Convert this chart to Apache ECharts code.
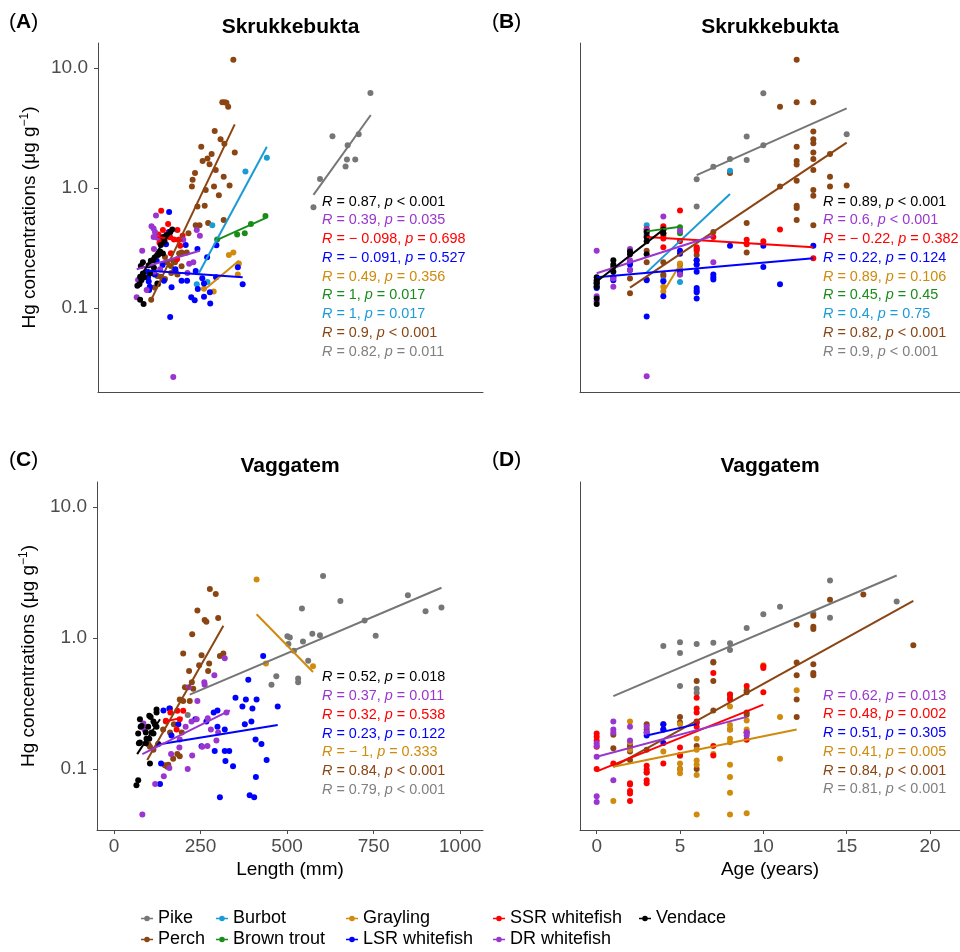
<!DOCTYPE html>
<html><head><meta charset="utf-8">
<script src="https://cdn.jsdelivr.net/npm/echarts@6/dist/echarts.min.js"></script>
<style>html,body{margin:0;padding:0;background:#fff}#c{width:960px;height:952px}</style>
</head><body><div id="c"></div>
<script>
// ---------------- DATA ----------------
const species = ['Pike','Perch','Burbot','Brown trout','Grayling','LSR whitefish','SSR whitefish','DR whitefish','Vendace'];
const panelTitles = ['Skrukkebukta','Skrukkebukta','Vaggatem','Vaggatem'];
const panelTags = ['A','B','C','D'];
const lengthTicks = [0,250,500,750,1000];
const ageTicks = [0,5,10,15,20];
const hgTicks = [0.1,1,10];

// Panel A: Skrukkebukta, length (mm) vs Hg
const aPike = [[575,0.69],[594,1.19],[630,2.70],[668,1.51],[672,1.73],[674,2.27],[696,1.73],[706,2.80],[740,6.2]];
const aPerch = [[343,11.7],[311,5.18],[318,5.18],[323,5.13],[328,4.76],[289,2.99],[306,2.55],[317,2.34],[347,1.98],[250,2.21],[280,1.92],[268,1.76],[254,1.68],[274,1.58],[292,1.41],[232,1.33],[225,1.17],[223,1.03],[263,0.96],[287,1.03],[301,0.87],[315,1.24],[332,1.05],[239,0.70],[260,0.71],[315,0.54],[270,0.51],[234,0.49],[245,0.49],[213,0.42],[193,0.29],[186,0.285],[208,0.29],[169,0.247],[145,0.266],[151,0.24],[162,0.224],[174,0.24],[193,0.223],[171,0.203],[163,0.196],[176,0.2],[181,0.19],[123,0.185],[133,0.182],[145,0.174],[125,0.158],[115,0.148],[105,0.117]];
const aBurbot = [[378,1.37],[440,1.79],[282,0.49],[268,0.165],[237,0.158]];
const aTrout = [[296,0.373],[354,0.41],[376,0.42],[394,0.50],[436,0.585]];
const aGrayling = [[330,0.277],[343,0.29],[359,0.235],[356,0.19],[286,0.137],[258,0.145]];
const aLSR = [[157,0.63],[156,0.43],[205,0.335],[239,0.31],[294,0.333],[267,0.265],[234,0.203],[253,0.177],[240,0.144],[258,0.16],[275,0.135],[221,0.123],[231,0.116],[258,0.124],[276,0.109],[193,0.169],[209,0.169],[164,0.149],[142,0.169],[138,0.228],[121,0.247],[160,0.084],[94,0.2],[96,0.18],[98,0.166],[101,0.15],[99,0.141],[356,0.218],[370,0.158],[148,0.34],[293,0.18],[175,0.21],[115,0.19]];
const aSSR = [[134,0.647],[154,0.5],[181,0.447],[139,0.447],[126,0.41],[131,0.373],[144,0.37],[160,0.388],[171,0.373],[186,0.37],[189,0.33],[162,0.286],[180,0.255],[129,0.35],[157,0.42],[184,0.37],[196,0.4]];
const aDR = [[119,0.59],[106,0.48],[112,0.46],[116,0.43],[112,0.39],[123,0.385],[79,0.3],[113,0.31],[198,0.37],[246,0.4],[237,0.447],[215,0.234],[227,0.24],[210,0.196],[131,0.21],[113,0.2],[67,0.171],[75,0.168],[63,0.123],[92,0.141],[169,0.0266]];
const aVendace = [[160,0.427],[166,0.45],[149,0.406],[140,0.39],[143,0.357],[133,0.335],[131,0.295],[139,0.285],[125,0.277],[115,0.264],[110,0.25],[104,0.247],[81,0.24],[75,0.224],[98,0.227],[113,0.216],[102,0.194],[81,0.194],[73,0.182],[85,0.18],[77,0.171],[71,0.158],[65,0.153],[123,0.16],[73,0.117],[83,0.108]];
const aPikeFit = [[575,0.875],[741,4.06]];
const aPerchFit = [[105,0.117],[347,3.39]];
const aBurbotFit = [[243,0.195],[440,2.21]];
const aTroutFit = [[296,0.37],[436,0.56]];
const aGraylingFit = [[258,0.141],[359,0.248]];
const aLSRFit = [[90,0.205],[370,0.18]];
const aSSRFit = [[123,0.39],[196,0.365]];
const aDRFit = [[63,0.21],[246,0.30]];
const aVendaceFit = [[68,0.175],[166,0.45]];
const aStatR = ['0.82','0.9','1','1','0.49','\u2212 0.091','\u2212 0.098','0.39','0.87'];
const aStatP = ['= 0.011','< 0.001','= 0.017','= 0.017','= 0.356','= 0.527','= 0.698','= 0.035','< 0.001'];

// Panel B: Skrukkebukta, age (years) vs Hg
const bPike = [[6,1.18],[6,0.70],[7,1.5],[8,1.74],[9,2.68],[9,1.71],[10,6.16],[10,2.27],[15,2.8]];
const bPerch = [[12,11.7],[11,4.76],[12,5.17],[13,5.17],[13,2.95],[13,2.55],[13,2.36],[13,1.98],[13,1.74],[13,1.41],[12,2.21],[12,1.68],[12,1.57],[12,1.15],[12,0.71],[12,0.68],[12,0.54],[11,1.03],[14,1.92],[14,1.24],[14,1.03],[15,1.05],[13,0.96],[13,0.86],[13,0.49],[8,1.33],[9,0.51],[9,0.29],[7,0.43],[6,0.277],[6,0.25],[6,0.23],[5,0.23],[5,0.21],[4,0.24],[4,0.19],[4,0.185],[3,0.24],[3,0.173],[2,0.176],[2,0.133],[5,0.19],[3,0.3]];
const bBurbot = [[3,0.49],[4,0.17],[5,0.165],[8,1.39]];
const bTrout = [[3,0.435],[4,0.45],[5,0.47],[5,0.42]];
const bGrayling = [[4,0.15],[4,0.137],[5,0.235],[5,0.21]];
const bLSR = [[0,0.15],[0,0.147],[0,0.16],[1,0.18],[1,0.17],[2,0.207],[2,0.24],[2,0.23],[3,0.17],[3,0.085],[4,0.167],[4,0.125],[5,0.3],[5,0.283],[5,0.2],[6,0.31],[6,0.25],[6,0.23],[6,0.2],[6,0.147],[6,0.14],[6,0.135],[6,0.12],[7,0.19],[7,0.18],[7,0.173],[8,0.33],[10,0.33],[10,0.22],[11,0.158],[13,0.33]];
const bSSR = [[5,0.65],[4,0.48],[4,0.46],[4,0.42],[4,0.4],[4,0.38],[3,0.39],[4,0.32],[5,0.36],[6,0.32],[6,0.3],[7,0.39],[9,0.37],[9,0.34],[10,0.36],[11,0.45],[13,0.26],[3,0.455]];
const bDR = [[0,0.3],[0,0.125],[0,0.114],[1,0.176],[2,0.31],[2,0.25],[2,0.207],[3,0.45],[3,0.41],[4,0.58],[5,0.44],[5,0.19],[7,0.24],[3,0.027],[1,0.15]];
const bVendace = [[0,0.18],[0,0.165],[0,0.16],[0,0.17],[0,0.15],[0,0.12],[0,0.108],[1,0.25],[1,0.23],[1,0.22],[1,0.2],[2,0.295],[2,0.28],[3,0.43],[3,0.39],[3,0.36],[3,0.28],[4,0.45],[4,0.42]];
const bPikeFit = [[6,1.28],[15,4.6]];
const bPerchFit = [[2,0.148],[15,2.39]];
const bBurbotFit = [[3,0.198],[8,0.89]];
const bTroutFit = [[3,0.435],[5,0.476]];
const bGraylingFit = [[4,0.135],[5,0.23]];
const bLSRFit = [[0,0.18],[13,0.26]];
const bSSRFit = [[3,0.39],[13,0.32]];
const bDRFit = [[0,0.195],[7,0.4]];
const bVendaceFit = [[0,0.166],[4,0.45]];
const bStatR = ['0.9','0.82','0.4','0.45','0.89','0.22','\u2212 0.22','0.6','0.89'];
const bStatP = ['< 0.001','< 0.001','= 0.75','= 0.45','= 0.106','= 0.124','= 0.382','< 0.001','< 0.001'];

// Panel C: Vaggatem, length (mm) vs Hg
const cPike = [[213,0.258],[455,0.44],[469,0.51],[501,1.03],[508,1.01],[504,0.9],[520,0.8],[532,0.49],[532,0.46],[546,0.94],[543,1.68],[561,0.67],[573,1.08],[595,1.05],[604,2.97],[654,1.92],[724,1.36],[756,1.04],[849,2.12],[900,1.6],[946,1.71]];
const cPerch = [[277,2.37],[294,2.17],[241,1.62],[262,1.37],[267,1.33],[301,1.42],[226,1.07],[200,0.76],[253,0.74],[246,0.62],[275,0.64],[306,0.73],[316,0.76],[217,0.56],[272,0.56],[205,0.42],[229,0.41],[225,0.46],[190,0.34],[200,0.33],[219,0.33],[162,0.29],[150,0.23],[173,0.22],[142,0.2],[162,0.19],[196,0.19],[183,0.13],[147,0.107],[157,0.108],[171,0.12],[190,0.125],[104,0.148],[100,0.154],[114,0.14],[154,0.104]];
const cGrayling = [[412,2.8],[439,0.64],[575,0.61]];
const cLSR = [[431,0.73],[388,0.48],[412,0.34],[381,0.34],[351,0.35],[371,0.3],[400,0.29],[378,0.22],[397,0.23],[299,0.28],[288,0.27],[320,0.2],[299,0.21],[267,0.23],[253,0.149],[291,0.137],[320,0.137],[333,0.137],[322,0.115],[344,0.105],[409,0.168],[426,0.155],[441,0.117],[410,0.087],[392,0.063],[405,0.061],[306,0.061],[473,0.30],[166,0.18],[136,0.11],[133,0.077],[160,0.29],[143,0.28],[186,0.22],[235,0.24]];
const cSSR = [[150,0.234],[183,0.278],[200,0.278],[181,0.2],[163,0.27],[190,0.24]];
const cDR = [[320,0.7],[216,0.42],[290,0.52],[261,0.46],[241,0.33],[271,0.244],[325,0.27],[239,0.24],[224,0.23],[207,0.21],[190,0.168],[255,0.148],[270,0.15],[296,0.165],[189,0.146],[226,0.127],[165,0.13],[160,0.102],[144,0.088],[119,0.077],[213,0.1],[85,0.223],[82,0.045],[301,0.19],[262,0.44],[280,0.2],[88,0.2]];
const cVendace = [[75,0.24],[77,0.21],[102,0.255],[123,0.27],[118,0.22],[109,0.19],[102,0.17],[92,0.157],[72,0.157],[104,0.11],[70,0.082],[65,0.075],[128,0.155],[123,0.285],[106,0.25],[114,0.23],[123,0.21],[80,0.213],[99,0.21],[92,0.19],[114,0.187],[70,0.187],[94,0.17],[75,0.159]];
const cPikeFit = [[219,0.37],[946,2.42]];
const cPerchFit = [[96,0.117],[316,1.24]];
const cGraylingFit = [[412,1.52],[575,0.55]];
const cLSRFit = [[123,0.153],[473,0.217]];
const cSSRFit = [[145,0.23],[198,0.246]];
const cDRFit = [[82,0.13],[335,0.28]];
const cVendaceFit = [[67,0.13],[133,0.24]];
const cStatR = ['0.79','0.84',null,null,'\u2212 1','0.23','0.32','0.37','0.52'];
const cStatP = ['< 0.001','< 0.001',null,null,'= 0.333','= 0.122','= 0.538','= 0.011','= 0.018'];

// Panel D: Vaggatem, age (years) vs Hg
const dPike = [[4,0.87],[5,0.93],[5,0.77],[5,0.43],[6,0.9],[6,0.41],[6,0.38],[7,0.92],[7,0.66],[8,0.91],[8,0.81],[9,1.19],[10,1.52],[11,1.73],[13,1.54],[14,2.75],[14,1.43],[18,1.9]];
const dPerch = [[16,2.15],[14,1.96],[19,0.88],[13,1.48],[13,1.22],[13,1.17],[12,1.26],[12,0.65],[12,0.52],[12,0.34],[12,0.25],[13,0.63],[13,0.54],[13,0.52],[7,0.47],[6,0.47],[9,0.385],[8,0.35],[7,0.28],[5,0.226],[5,0.1],[4,0.2],[3,0.2],[3,0.094],[2,0.136],[2,0.117],[1,0.144],[6,0.1],[7,0.65],[8,0.37],[9,0.4],[9,0.27],[9,0.26],[8,0.2],[6,0.15],[5,0.25],[5,0.126],[4,0.22],[3,0.22],[3,0.14],[2,0.153],[2,0.147],[1,0.183]];
const dGrayling = [[2,0.23],[2,0.14],[2,0.16],[1,0.057],[4,0.136],[5,0.22],[5,0.11],[5,0.093],[5,0.1],[6,0.14],[6,0.116],[6,0.108],[6,0.09],[6,0.045],[6,0.17],[7,0.13],[8,0.3],[8,0.217],[8,0.2],[8,0.17],[8,0.16],[8,0.108],[8,0.087],[8,0.066],[8,0.045],[9,0.2],[9,0.19],[9,0.235],[9,0.046],[10,0.62],[11,0.25],[11,0.12],[12,0.4]];
const dLSR = [[3,0.19],[3,0.18],[4,0.22],[4,0.2],[4,0.158],[6,0.225]];
const dSSR = [[0,0.187],[0,0.176],[0,0.165],[0,0.148],[0,0.1],[1,0.11],[2,0.078],[2,0.068],[2,0.065],[2,0.057],[3,0.106],[3,0.099],[3,0.082],[3,0.078],[4,0.11],[5,0.146],[5,0.128],[6,0.35],[6,0.29],[6,0.27],[6,0.23],[6,0.21],[7,0.54],[7,0.15],[7,0.127],[8,0.37],[8,0.34],[9,0.43],[9,0.167],[9,0.19],[10,0.61],[10,0.59],[10,0.385],[3,0.094],[2,0.076]];
const dDR = [[0,0.15],[0,0.157],[0,0.124],[0,0.062],[0,0.056],[1,0.23],[1,0.2],[1,0.19],[1,0.082],[2,0.21],[2,0.165],[3,0.21],[3,0.19],[9,0.19],[9,0.18]];
const dPikeFit = [[1,0.36],[18,3.0]];
const dPerchFit = [[1,0.104],[19,1.92]];
const dGraylingFit = [[1,0.104],[12,0.2]];
const dLSRFit = [[3,0.18],[6,0.22]];
const dSSRFit = [[0,0.096],[10,0.31]];
const dDRFit = [[0,0.124],[9,0.25]];
const dStatR = ['0.81','0.84',null,null,'0.41','0.51','0.48','0.62',null];
const dStatP = ['< 0.001','< 0.001',null,null,'= 0.005','= 0.305','= 0.002','= 0.013',null];

// ---------------- STYLE ----------------
const colors = ['#767676','#8B4513','#1B9BD6','#1A8C1A','#D08A0C','#0000FF','#FF0000','#9A35D0','#000000'];
const statColors = ['#808080','#8B4513','#1B9BD6','#1A8C1A','#D08A0C','#0000FF','#FF0000','#9A35D0','#000000'];
const FONT = '"Liberation Sans", Arial, Helvetica, sans-serif';
const axisCol = '#4a4a4a';
const labCol = '#4D4D4D';

const panelPts = [
  [aPike,aPerch,aBurbot,aTrout,aGrayling,aLSR,aSSR,aDR,aVendace],
  [bPike,bPerch,bBurbot,bTrout,bGrayling,bLSR,bSSR,bDR,bVendace],
  [cPike,cPerch,null,null,cGrayling,cLSR,cSSR,cDR,cVendace],
  [dPike,dPerch,null,null,dGrayling,dLSR,dSSR,dDR,null]];
const panelFits = [
  [aPikeFit,aPerchFit,aBurbotFit,aTroutFit,aGraylingFit,aLSRFit,aSSRFit,aDRFit,aVendaceFit],
  [bPikeFit,bPerchFit,bBurbotFit,bTroutFit,bGraylingFit,bLSRFit,bSSRFit,bDRFit,bVendaceFit],
  [cPikeFit,cPerchFit,null,null,cGraylingFit,cLSRFit,cSSRFit,cDRFit,cVendaceFit],
  [dPikeFit,dPerchFit,null,null,dGraylingFit,dLSRFit,dSSRFit,dDRFit,null]];
const panelStatR = [aStatR,bStatR,cStatR,dStatR];
const panelStatP = [aStatP,bStatP,cStatP,dStatP];

const grids = [
  {left:98, top:43, width:385, height:349},
  {left:580, top:43, width:380, height:349},
  {left:97, top:482, width:386, height:348},
  {left:580, top:482, width:380, height:348}];
const statPos = [{x:322,y:201.7},{x:823,y:201.7},{x:322,y:677.3},{x:823,y:695.7}];
const statStep = 18.75;

function xAxisFor(i){
  const isLen = (i % 2 === 0);
  const bottom = i >= 2;
  const ax = {
    gridIndex:i, type:'value',
    min: isLen ? -49 : -1.0, max: isLen ? 1066 : 21.8,
    axisLine:{show:true, onZero:false, lineStyle:{color:axisCol, width:1}},
    splitLine:{show:false},
    axisTick:{show:bottom, length:4, lineStyle:{color:axisCol}},
    axisLabel:{show:bottom, color:labCol, fontSize:19, fontFamily:FONT, margin:7, formatter: v => String(v)}
  };
  if (bottom) {
    const t = isLen ? lengthTicks : ageTicks;
    ax.axisTick.customValues = t;
    ax.axisLabel.customValues = t;
    ax.name = isLen ? 'Length (mm)' : 'Age (years)';
    ax.nameLocation = 'middle';
    ax.nameGap = 30;
    ax.nameTextStyle = {color:'#000', fontSize:19, fontFamily:FONT};
  }
  return ax;
}
function yAxisFor(i){
  const top = i < 2;
  const left = (i % 2 === 0);
  const ax = {
    gridIndex:i, type:'log', logBase:10,
    min: top ? 0.01995 : 0.03423, max: top ? 16.15 : 15.52,
    axisLine:{show:true, onZero:false, lineStyle:{color:axisCol, width:1}},
    splitLine:{show:false},
    axisTick:{show:left, length:4, customValues:hgTicks, lineStyle:{color:axisCol}},
    axisLabel:{show:left, customValues:hgTicks, color:labCol, fontSize:19, fontFamily:FONT, margin:10,
      formatter: v => Number(v).toFixed(1)}
  };
  if (left) {
    ax.name = 'Hg concentrations (\u03bcg g{sup|\u22121})';
    ax.nameLocation = 'middle';
    ax.nameGap = 58;
    ax.nameTextStyle = {color:'#000', fontSize:19, fontFamily:FONT,
      rich:{sup:{fontSize:12, fontFamily:FONT, color:'#000', verticalAlign:'top', padding:[0,0,9,0]}}};
  }
  return ax;
}

const series = [];
for (let p = 0; p < 4; p++) {
  for (let s = 0; s < species.length; s++) {
    if (panelPts[p][s]) series.push({
      type:'scatter', name:species[s], xAxisIndex:p, yAxisIndex:p,
      data:panelPts[p][s], symbolSize:6, z:2,
      itemStyle:{color:colors[s], opacity:1}, emphasis:{disabled:true}
    });
  }
  for (let s = 0; s < species.length; s++) {
    if (panelFits[p][s]) series.push({
      type:'line', name:species[s], xAxisIndex:p, yAxisIndex:p,
      data:panelFits[p][s], showSymbol:false, symbol:'none', z:3,
      lineStyle:{color:colors[s], width:2}, itemStyle:{color:colors[s]}, emphasis:{disabled:true}
    });
  }
}

const graphic = [];
for (let p = 0; p < 4; p++) {
  const g = grids[p];
  graphic.push({type:'text', x:g.left + g.width / 2, y:(p<2 ? 27 : 466),
    style:{text:panelTitles[p], fontSize:21, fontWeight:'bold', fontFamily:FONT, fill:'#000', align:'center', verticalAlign:'middle'}});
  graphic.push({type:'text', x:(p%2===0 ? 9 : 492), y:(p<2 ? 22 : 460),
    style:{text:'({b|' + panelTags[p] + '})', fontSize:21, fontFamily:FONT, fill:'#000', verticalAlign:'middle',
      rich:{b:{fontSize:21, fontWeight:'bold', fontFamily:FONT, fill:'#000'}}}});
  let k = 0;
  for (let s = species.length - 1; s >= 0; s--) {
    const r = panelStatR[p][s];
    if (r === null) continue;
    const col = statColors[s];
    graphic.push({type:'text', x:statPos[p].x, y:statPos[p].y + k * statStep,
      style:{text:'{i|R} = ' + r + ', {i|p} ' + panelStatP[p][s], fontSize:14.4, fontFamily:FONT, fill:col, verticalAlign:'middle',
        rich:{i:{fontStyle:'italic', fontSize:14.4, fontFamily:FONT, fill:col}}}});
    k++;
  }
}

const legendCols = [['Pike','Perch'],['Burbot','Brown trout'],['Grayling','LSR whitefish'],['SSR whitefish','DR whitefish'],['Vendace']];
const legendLeft = [141,216,346,493,639];
const icon = 'path://M0,2.3H12V3.7H0Z M3.2,3A2.8,2.8 0 1,1 8.8,3A2.8,2.8 0 1,1 3.2,3Z';
const legend = legendCols.map((d, i) => ({
  data:d, orient:'vertical', left:legendLeft[i], top:908, padding:0, itemGap:0, itemWidth:12, itemHeight:6,
  icon:icon, selectedMode:false,
  textStyle:{fontSize:18, fontFamily:FONT, color:'#000', lineHeight:21}
}));

const chart = echarts.init(document.getElementById('c'), null, {renderer:'canvas'});
chart.setOption({
  animation:false,
  backgroundColor:'#fff',
  grid: grids.map(g => Object.assign({containLabel:false, outerBoundsMode:'none'}, g)),
  xAxis:[0,1,2,3].map(xAxisFor),
  yAxis:[0,1,2,3].map(yAxisFor),
  legend:legend,
  graphic:graphic,
  series:series
});
</script></body></html>
